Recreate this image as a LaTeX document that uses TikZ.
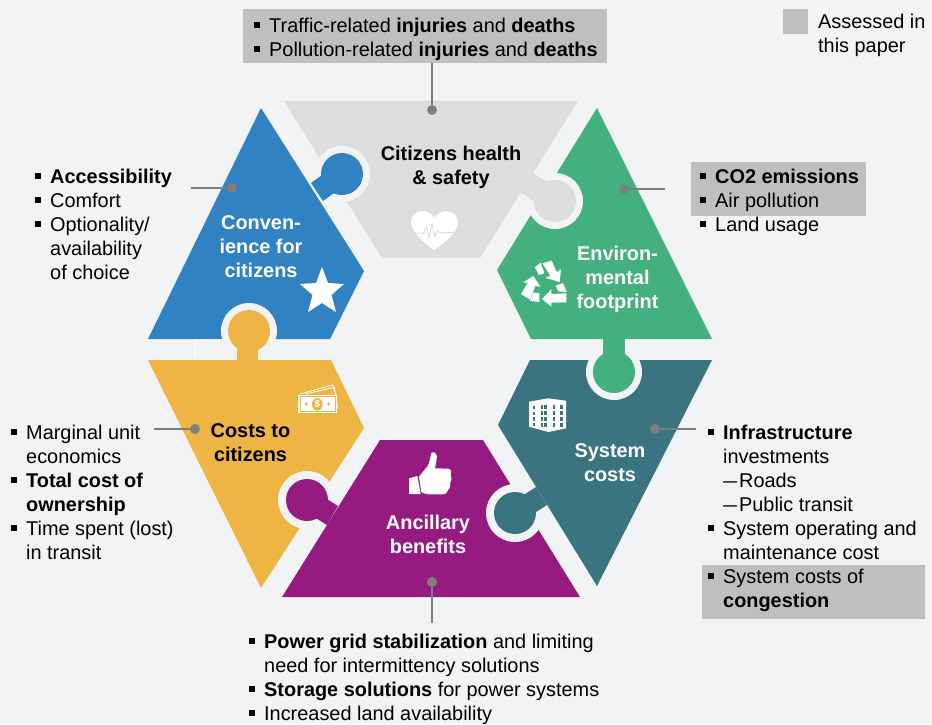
\documentclass[tikz,border=0pt]{standalone}
\usepackage{fontspec}
\usepackage{graphicx}
\setmainfont{Liberation Sans}
\definecolor{bgc}{HTML}{F1F3F5}
\definecolor{hlc}{HTML}{BFBFBF}
\definecolor{gryc}{HTML}{DDDDDD}
\definecolor{bluc}{HTML}{3182C3}
\definecolor{grnc}{HTML}{44B07E}
\definecolor{tealc}{HTML}{3A7480}
\definecolor{purc}{HTML}{951B81}
\definecolor{yelc}{HTML}{EEB545}
\definecolor{dotc}{HTML}{7F7F7F}
\newcommand{\bu}{\leavevmode\strut\llap{\rule[4pt]{6pt}{6pt}\hspace{9pt}}}
\newcommand{\dsh}{\scalebox{0.7}[1]{—}\hspace{2pt}}
\tikzset{
  x=1pt,y=-1pt,
  txt/.style={anchor=north west,inner sep=0pt,align=left,font=\fontsize{19.9}{24}\selectfont},
  ttl/.style={inner sep=0pt,align=center,font=\fontsize{19.9}{24}\selectfont\bfseries},
  hl/.style={anchor=north west,fill=hlc,inner sep=0pt},
  dotn/.style={circle,fill=dotc,inner sep=0pt,minimum size=10pt},
  conn/.style={draw=dotc,line width=1.2pt},
  ring/.style={fill=bgc},
}
\begin{document}
\begin{tikzpicture}
\useasboundingbox (0,0) rectangle (932,724);
\fill[bgc] (0,0) rectangle (932,724);
% highlight boxes
\node[hl,minimum width=364pt,minimum height=54pt] (boxTop) at (243,9) {};
\node[hl,minimum width=25pt,minimum height=25pt] (boxLeg) at (783,9) {};
\node[hl,minimum width=175pt,minimum height=54pt] (boxCO) at (691,162) {};
\node[hl,minimum width=223pt,minimum height=54pt] (boxCong) at (702,565) {};
% ghost outline in the gap
\draw[white,line width=.8pt] (195,360) -- (195,339) -- (263,339) -- (263,360);
% shapes
\fill[gryc] (284,101) -- (578,101) -- (480,258) -- (382,258) -- cycle;
\fill[bluc] (261,108) -- (364,271) -- (330,339) -- (148,339) -- cycle;
\fill[grnc] (597,108) -- (712,339) -- (531,339) -- (497,270) -- cycle;
\fill[yelc] (148,360) -- (331,360) -- (364,428) -- (261,588) -- cycle;
\fill[tealc] (530,360) -- (712,360) -- (597,586) -- (498,425) -- cycle;
\fill[purc] (380,440) -- (483,440) -- (580,597) -- (282,597) -- cycle;
% rings
\fill[ring] (342,174) circle (28pt);
\fill[ring] (555,201) circle (28pt);
\fill[ring] (614,372) circle (28pt);
\fill[ring] (515,513) circle (29pt);
\fill[ring] (307,500) circle (29pt);
\fill[ring] (249,331) circle (28pt);
% knobs
\fill[bluc] (311,183) -- (336,165) -- (348,183) -- (323,201) -- cycle;
\fill[bluc] (342,174) circle (21pt);
\fill[gryc] (533,173) -- (561,191) -- (549,211) -- (521,193) -- cycle;
\fill[gryc] (555,201) circle (21pt);
\fill[grnc] (603,338) rectangle (625,372);
\fill[grnc] (614,372) circle (21pt);
\fill[tealc] (536,487) -- (509.5,504) -- (520.5,522) -- (547,505) -- cycle;
\fill[tealc] (515,513) circle (21pt);
\fill[purc] (338,506) -- (313,490.5) -- (302,509.5) -- (327,525) -- cycle;
\fill[purc] (307,500) circle (21pt);
\fill[yelc] (237,361) rectangle (258,331);
\fill[yelc] (249,331) circle (21pt);
% heart
\fill[white] (434,250) .. controls (424,243) and (411,232) .. (411,222) .. controls (411,215) and (417,211) .. (423,211) .. controls (428,211) and (432,214) .. (434.5,218) .. controls (437,214) and (441,211) .. (446,211) .. controls (453,211) and (458,216) .. (458,222) .. controls (458,232) and (445,243) .. (434,250) -- cycle;
\draw[gryc,line width=1pt,line join=round] (412,233) -- (424,233) -- (426.5,226) -- (429,238) -- (432,224) -- (435,237) -- (437.5,230) -- (440,233) -- (457,232);
% star
\fill[white] (322,267) -- (328,283) -- (344,284) -- (331.5,295) -- (336,312) -- (322,303) -- (308,312) -- (312.5,295) -- (300,284) -- (316,283) -- cycle;
% recycle and building
\begin{scope}[shift={(480,150)},scale=1/3]
\fill[white] (187,340) -- (215,332) -- (230,366) -- (243,358) -- (239,396) -- (197,384) -- (211,377) -- cycle;
\fill[white] (165,352) -- (182,338) -- (193,370) -- (177,375) -- cycle;
\fill[white] (186,447) -- (214,418) -- (214,432) -- (259,430) -- (259,457) -- (214,458) -- (214,470) -- cycle;
\fill[white] (227,407) -- (249,399) -- (260,426) -- (235,424) -- cycle;
\fill[white] (160,378) -- (181,410) -- (166,408) -- (150,449) -- (123,432) -- (143,399) -- (130,397) -- cycle;
\fill[white] (150,453) -- (160,428) -- (178,430) -- (178,456) -- cycle;
\fill[white] (147,755) -- (205,745) -- (258,752) -- (258,835) -- (205,846) -- (147,830) -- cycle;
\foreach \i in {0,1,2,3} {
  \fill[tealc] (183,{765+\i*18}) rectangle ++(7,11);
  \fill[tealc] (193,{765+\i*18}) rectangle ++(7,11);
  \fill[tealc] (218,{765+\i*18}) rectangle ++(7,11);
  \fill[tealc] (241,{765+\i*18}) rectangle ++(7,11);
}
\foreach \i in {0,1,2,3} {\fill[tealc] (160,{768+\i*17}) rectangle ++(5,10);}
\end{scope}
% money
\begin{scope}[shift={(140,290)},scale=1/3]
\draw[white,line width=.8pt] (480,312) -- (578,285) -- (585,305);
\draw[white,line width=.8pt] (495,312) -- (583,292) -- (593,355);
\fill[white] (475,315) rectangle (590,370);
\draw[yelc,line width=.7pt] (480,320) rectangle (585,365);
\fill[yelc] (532,343) ellipse (16 and 19);
\fill[yelc] (499,342) circle (5);
\fill[yelc] (566,342) circle (5);
\node[inner sep=0pt,text=white,font=\fontsize{10}{10}\selectfont\bfseries] (moneySign) at (532,343) {\$};
\end{scope}
% thumb
\begin{scope}[shift={(260,430)},scale=1/3]
\fill[white] (447,145) -- (472,138) -- (482,192) -- (447,192) -- cycle;
\fill[white] (477,140) -- (503,108) .. controls (510,95) and (510,80) .. (515,68) .. controls (525,62) and (533,75) .. (530,88) -- (525,115) -- (565,116) .. controls (575,118) and (575,130) .. (572,135) .. controls (576,145) and (574,155) .. (570,160) .. controls (572,170) and (568,178) .. (563,182) .. controls (562,190) and (555,193) .. (548,193) -- (505,193) .. controls (495,193) and (490,188) .. (484,186) -- cycle;
\end{scope}
% titles
\node[ttl,text=black] (tHealth) at (451,167.5) {Citizens health\\\& safety};
\node[ttl,text=white] (tConv) at (261,247) {Conven-\\ience for\\citizens};
\node[ttl,text=white] (tEnv) at (617.5,279) {Environ-\\mental\\footprint};
\node[ttl,text=white] (tSys) at (610,463) {System\\costs};
\node[ttl,text=white] (tAnc) at (428,534) {Ancillary\\benefits};
\node[ttl,text=black] (tCost) at (250.5,443) {Costs to\\citizens};
% lists
\node[txt] (lTop) at (269,15) {\bu Traffic-related \textbf{injuries} and \textbf{deaths}\\\bu Pollution-related \textbf{injuries} and \textbf{deaths}};
\node[txt] (lLeg) at (818,11) {\strut Assessed in\\this paper};
\node[txt] (lConv) at (50,166) {\bu\textbf{Accessibility}\\\bu Comfort\\\bu Optionality/\\availability\\of choice};
\node[txt] (lEnv) at (715,166) {\bu\textbf{CO2 emissions}\\\bu Air pollution\\\bu Land usage};
\node[txt] (lCost) at (26,422) {\bu Marginal unit\\economics\\\bu\textbf{Total cost of}\\\textbf{ownership}\\\bu Time spent (lost)\\in transit};
\node[txt] (lSys) at (723,422) {\bu\textbf{Infrastructure}\\investments\\\dsh Roads\\\dsh Public transit\\\bu System operating and\\maintenance cost\\\bu System costs of\\\textbf{congestion}};
\node[txt] (lAnc) at (264,631) {\bu\textbf{Power grid stabilization} and limiting\\need for intermittency solutions\\\bu\textbf{Storage solutions} for power systems\\\bu Increased land availability};
% connectors
\node[dotn] (dHealth) at (432,110) {};
\node[dotn] (dConv) at (232,188) {};
\node[dotn] (dEnv) at (624,189) {};
\node[dotn] (dSys) at (655,429) {};
\node[dotn] (dCost) at (195,429) {};
\node[dotn] (dAnc) at (432,582) {};
\coordinate (eConv) at (191,188);
\coordinate (eEnv) at (665,189);
\coordinate (eSys) at (696,429);
\coordinate (eCost) at (154,429);
\coordinate (eAnc) at (432,623);
\draw[conn] (dHealth) -- (dHealth |- boxTop.south);
\draw[conn] (dConv) -- (eConv);
\draw[conn] (dEnv) -- (eEnv);
\draw[conn] (dSys) -- (eSys);
\draw[conn] (dCost) -- (eCost);
\draw[conn] (dAnc) -- (eAnc);
\end{tikzpicture}
\end{document}
